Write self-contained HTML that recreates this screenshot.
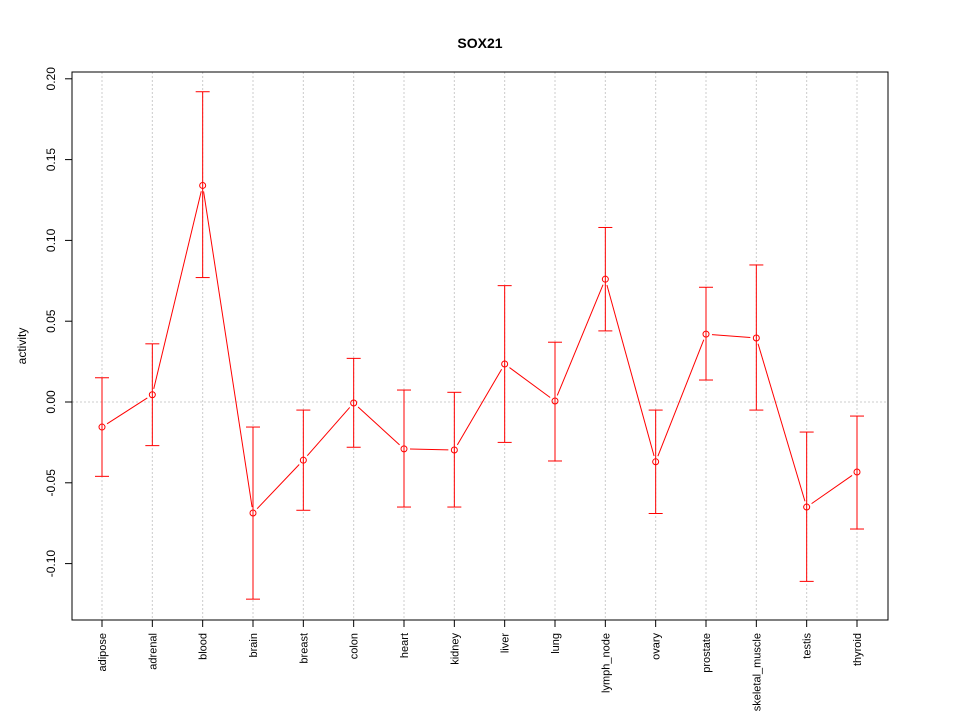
<!DOCTYPE html>
<html><head><meta charset="utf-8"><style>
body{margin:0;background:#fff;}
svg{display:block;font-family:"Liberation Sans",sans-serif;}
</style></head><body>
<svg id="chart" width="960" height="720">
<text x="480" y="48" text-anchor="middle" font-size="14" font-weight="bold">SOX21</text>
<text transform="translate(26,346) rotate(-90)" text-anchor="middle" font-size="12">activity</text>
<g id="grid"></g><g id="axes"></g><g id="series"></g>
<rect x="72" y="72" width="816" height="548" fill="none" stroke="#000"/>
</svg>
<script>
const categories=["adipose","adrenal","blood","brain","breast","colon","heart","kidney","liver","lung","lymph_node","ovary","prostate","skeletal_muscle","testis","thyroid"];
const values=[-0.0155,0.0045,0.134,-0.0687,-0.036,-0.0006,-0.029,-0.0297,0.0235,0.0006,0.076,-0.037,0.042,0.0396,-0.065,-0.0433];
const upper=[0.015,0.036,0.192,-0.0155,-0.005,0.027,0.0074,0.006,0.072,0.037,0.108,-0.005,0.071,0.0848,-0.0186,-0.0087];
const lower=[-0.046,-0.027,0.077,-0.122,-0.067,-0.028,-0.065,-0.065,-0.025,-0.0365,0.044,-0.069,0.0136,-0.005,-0.111,-0.0786];
const yTicks=[-0.10,-0.05,0.00,0.05,0.10,0.15,0.20];
const yTickLabels=["-0.10","-0.05","0.00","0.05","0.10","0.15","0.20"];
const NS="http://www.w3.org/2000/svg";
function y(v){return 402-v*1616;}
function x(i){return 102+i*(857-102)/(categories.length-1);}
function mk(tag,attrs,parent){const e=document.createElementNS(NS,tag);for(const k in attrs)e.setAttribute(k,attrs[k]);parent.appendChild(e);return e;}
const grid=document.getElementById('grid'),axes=document.getElementById('axes'),ser=document.getElementById('series');
const zg=mk('line',{x1:72,x2:888,y1:y(0),y2:y(0),stroke:'#ccc','stroke-dasharray':'2,2'},grid);


yTicks.forEach((t,i)=>{
 const tk=mk('line',{x1:65,x2:72,y1:y(t),y2:y(t),stroke:'#000'},axes);
 
 
 const tx=mk('text',{transform:`translate(55,${y(t)}) rotate(-90)`,'text-anchor':'middle','font-size':12},axes);
 tx.textContent=yTickLabels[i];
 
 
});
categories.forEach((c,i)=>{
 const g=mk('line',{x1:x(i),x2:x(i),y1:72,y2:620,stroke:'#ccc','stroke-dasharray':'2,2'},grid);
 
 
 const tk=mk('line',{x1:x(i),x2:x(i),y1:620,y2:627,stroke:'#000'},axes);
 
 
 const tx=mk('text',{transform:`translate(${x(i)+4},633) rotate(-90)`,'text-anchor':'end','font-size':11},axes);
 tx.textContent=c;
 
 
});
for(let i=0;i<values.length-1;i++){
 const x1=x(i),y1=y(values[i]),x2=x(i+1),y2=y(values[i+1]);
 const dx=x2-x1,dy=y2-y1,L=Math.hypot(dx,dy),g=6;
 if(L<=2*g) continue;
 const s=mk('line',{x1:x1+dx*g/L,y1:y1+dy*g/L,x2:x2-dx*g/L,y2:y2-dy*g/L,stroke:'red'},ser);
 
 
}
values.forEach((v,i)=>{
 const g=mk('g',{stroke:'red',fill:'none'},ser);
 
 
 mk('line',{x1:x(i),x2:x(i),y1:y(upper[i]),y2:y(lower[i])},g);
 mk('line',{x1:x(i)-7,x2:x(i)+7,y1:y(upper[i]),y2:y(upper[i])},g);
 mk('line',{x1:x(i)-7,x2:x(i)+7,y1:y(lower[i]),y2:y(lower[i])},g);
 const p=mk('circle',{cx:x(i),cy:y(v),r:3,stroke:'red',fill:'none'},ser);
 
 
});
</script>
</body></html>
